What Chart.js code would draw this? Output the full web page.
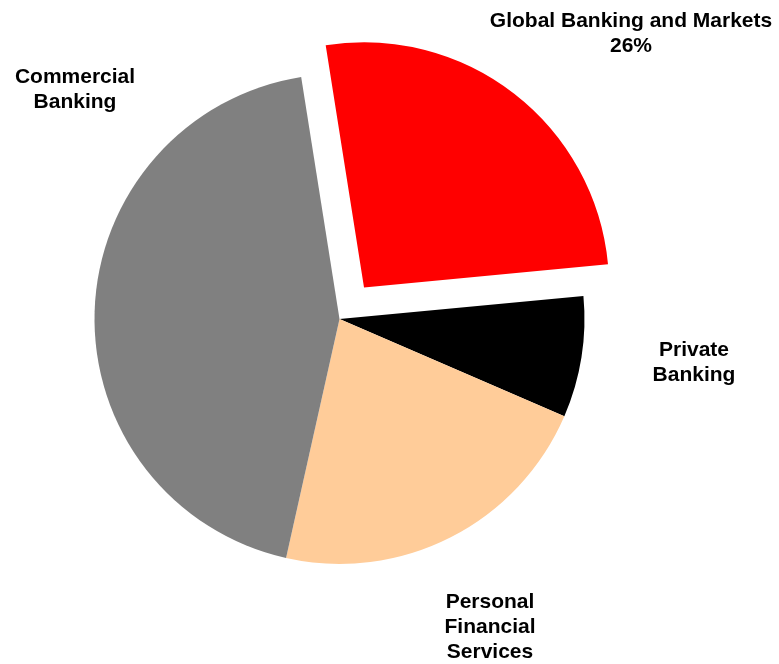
<!DOCTYPE html>
<html>
<head>
<meta charset="utf-8">
<title>Revenue by business</title>
<script src="https://cdn.jsdelivr.net/npm/chart.js@4/dist/chart.umd.min.js"></script>
<style>
    html, body { margin: 0; padding: 0; background: #fff; }
    #wrap { width: 779px; height: 664px; }
</style>
</head>
<body>
<div id="wrap"><canvas id="pieChart" width="779" height="664"></canvas></div>
<script>
// business lines, clockwise from the top
const categories = ['Global Banking and Markets', 'Private Banking', 'Personal Financial Services', 'Commercial Banking'];
const labelLines = [
    ['Global Banking and Markets'],
    ['Private', 'Banking'],
    ['Personal', 'Financial', 'Services'],
    ['Commercial', 'Banking']
];
const shares = [26, 8, 22, 44];
const showShare = [true, false, false, false];
const sliceColors = ['#ff0000', '#000000', '#ffcc99', '#808080'];

// labels sit outside the pie, each one at its own spot
const outsideLabels = {
    id: 'outsideLabels',
    afterDraw(chart, args, opts) {
        const ctx = chart.ctx;
        const ds = chart.data.datasets[0];
        ctx.save();
        ctx.font = opts.font;
        ctx.fillStyle = opts.color;
        ctx.textAlign = 'center';
        ctx.textBaseline = 'alphabetic';
        labelLines.forEach((lines, i) => {
            const pos = opts.anchors[i];
            const text = lines.slice();
            if (showShare[i]) text.push(ds.data[i] + '%');
            text.forEach((line, j) => {
                ctx.fillText(line, pos.x, pos.y + j * opts.lineHeight);
            });
        });
        ctx.restore();
    }
};

new Chart(document.getElementById('pieChart'), {
    type: 'pie',
    data: {
        labels: categories,
        datasets: [{
            data: shares,
            backgroundColor: sliceColors,
            borderWidth: 0,
            offset: [160, 0, 0, 0]
        }]
    },
    options: {
        responsive: false,
        animation: false,
        rotation: -9,
        radius: 245,
        layout: { padding: { left: 0, right: 100, top: 0, bottom: 26 } },
        plugins: {
            legend: { display: false },
            tooltip: { enabled: false },
            outsideLabels: {
                font: 'bold 21px "Liberation Sans", Arial, sans-serif',
                color: '#000',
                lineHeight: 25,
                anchors: [
                    { x: 631, y: 26.5 },
                    { x: 694, y: 356 },
                    { x: 490, y: 608 },
                    { x: 75, y: 82.5 }
                ]
            }
        }
    },
    plugins: [outsideLabels]
});
</script>
</body>
</html>
